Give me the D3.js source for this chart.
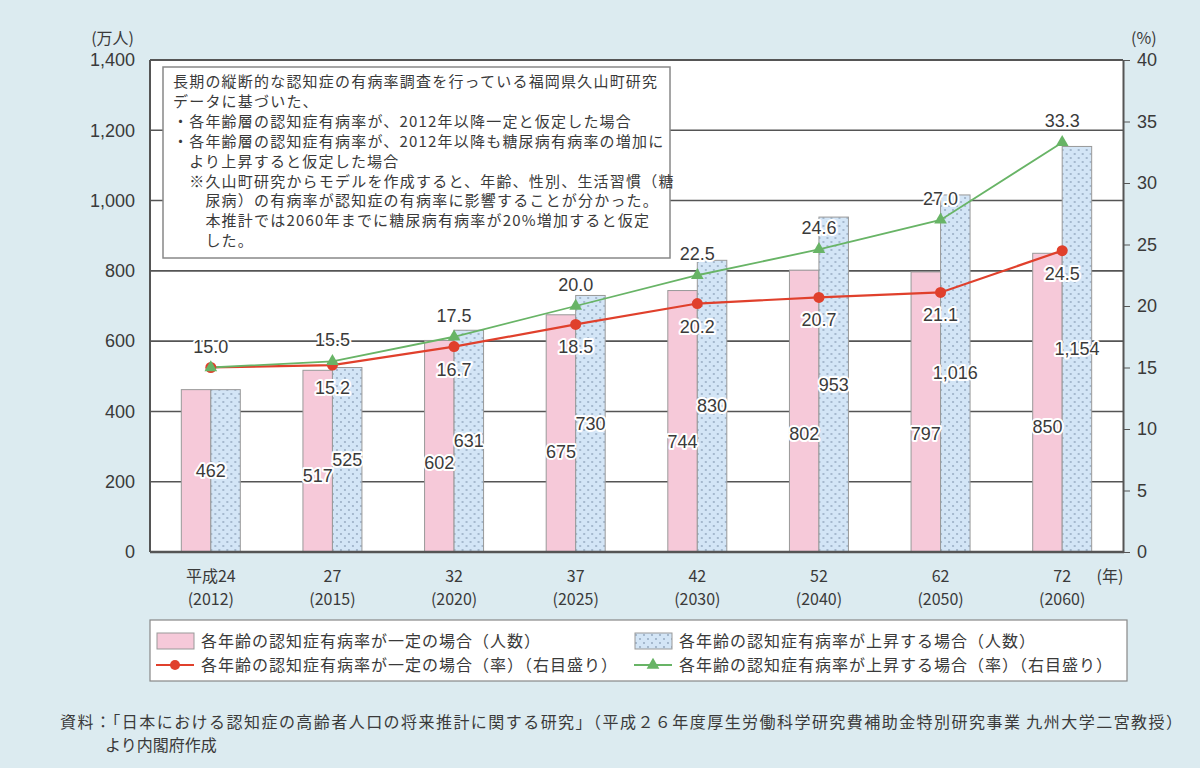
<!DOCTYPE html>
<html>
<head>
<meta charset="utf8">
<script src="https://d3js.org/d3.v7.min.js"></script>
<style>
  body { margin: 0; background: #dcebf0; }
  text { font-family: "Liberation Sans", Arial, sans-serif; fill: #3a3a3a; }
  .jp { font-family: "Noto Sans CJK JP", sans-serif; }
  .axis path, .axis line { stroke: #555; }
</style>
</head>
<body>
<svg id="chart" width="1200" height="768"></svg>
<script>
var eraYears = ['平成24', '27', '32', '37', '42', '52', '62', '72'];
var westernYears = ['(2012)', '(2015)', '(2020)', '(2025)', '(2030)', '(2040)', '(2050)', '(2060)'];
var peopleConst = [462, 517, 602, 675, 744, 802, 797, 850];
var peopleRise = [462, 525, 631, 730, 830, 953, 1016, 1154];
var rateConst = [15.0, 15.2, 16.7, 18.5, 20.2, 20.7, 21.1, 24.5];
var rateRise = [15.0, 15.5, 17.5, 20.0, 22.5, 24.6, 27.0, 33.3];
var leftTicks = [0, 200, 400, 600, 800, 1000, 1200, 1400];
var rightTicks = [0, 5, 10, 15, 20, 25, 30, 35, 40];
var seriesNames = [
  '各年齢の認知症有病率が一定の場合（人数）',
  '各年齢の認知症有病率が上昇する場合（人数）',
  '各年齢の認知症有病率が一定の場合（率）（右目盛り）',
  '各年齢の認知症有病率が上昇する場合（率）（右目盛り）'
];
var noteLines = [
  '長期の縦断的な認知症の有病率調査を行っている福岡県久山町研究',
  'データに基づいた、',
  '・各年齢層の認知症有病率が、2012年以降一定と仮定した場合',
  '・各年齢層の認知症有病率が、2012年以降も糖尿病有病率の増加に',
  '　より上昇すると仮定した場合',
  '　※久山町研究からモデルを作成すると、年齢、性別、生活習慣（糖',
  '　　尿病）の有病率が認知症の有病率に影響することが分かった。',
  '　　本推計では2060年までに糖尿病有病率が20%増加すると仮定',
  '　　した。'
];
var sourceLines = [
  '資料：「日本における認知症の高齢者人口の将来推計に関する研究」（平成２６年度厚生労働科学研究費補助金特別研究事業 九州大学二宮教授）',
  'より内閣府作成'
];

var svg = d3.select('#chart');
var plotL = 150, plotR = 1123, plotT = 60, plotB = 552;
var colors = { pink: '#f6c9d9', blue: '#d3e5f6', red: '#e0402c', green: '#68b466' };

var x0 = d3.scaleBand()
  .domain(d3.range(eraYears.length))
  .range([plotL, plotR])
  .paddingInner(0.515)
  .paddingOuter(0.2575);
var x1 = d3.scaleBand().domain(['c', 'r']).range([0, x0.bandwidth()]);
var yL = d3.scaleLinear().domain([0, 1400]).range([plotB, plotT]);
var yR = d3.scaleLinear().domain([0, 40]).range([plotB, plotT]);
var cx = function (i) { return x0(i) + x0.bandwidth() / 2; };

// dotted fill for the rising series
var pat = svg.append('defs').append('pattern')
  .attr('id', 'dots').attr('patternUnits', 'userSpaceOnUse')
  .attr('width', 8).attr('height', 8);
pat.append('rect').attr('width', 8).attr('height', 8).attr('fill', colors.blue);
pat.append('circle').attr('cx', 2).attr('cy', 2).attr('r', 0.9).attr('fill', '#8fa3bb');
pat.append('circle').attr('cx', 6).attr('cy', 6).attr('r', 0.9).attr('fill', '#8fa3bb');

// plot area
svg.append('rect').attr('x', plotL).attr('y', plotT)
  .attr('width', plotR - plotL).attr('height', plotB - plotT).attr('fill', '#fff');

svg.append('g').selectAll('line')
  .data(leftTicks.slice(1))
  .enter().append('line')
  .attr('x1', plotL).attr('x2', plotR)
  .attr('y1', (d) => yL(d)).attr('y2', (d) => yL(d))
  .attr('stroke', '#555').attr('stroke-width', 1.6);

// bars
var groups = svg.append('g').selectAll('g')
  .data(eraYears.map((d, i) => i))
  .enter().append('g')
  .attr('transform', (i) => 'translate(' + x0(i) + ',0)');
groups.append('rect')
  .attr('x', x1('c')).attr('width', x1.bandwidth())
  .attr('y', (i) => yL(peopleConst[i])).attr('height', (i) => plotB - yL(peopleConst[i]))
  .attr('fill', colors.pink).attr('stroke', '#999').attr('stroke-width', 1);
groups.append('rect')
  .attr('x', x1('r')).attr('width', x1.bandwidth())
  .attr('y', (i) => yL(peopleRise[i])).attr('height', (i) => plotB - yL(peopleRise[i]))
  .attr('fill', 'url(#dots)').attr('stroke', '#999').attr('stroke-width', 1);

// axes
svg.append('line').attr('x1', plotL).attr('x2', plotR).attr('y1', plotT).attr('y2', plotT)
  .attr('stroke', '#555').attr('stroke-width', 2);
svg.append('line').attr('x1', plotL).attr('x2', plotL).attr('y1', plotT).attr('y2', plotB)
  .attr('stroke', '#555').attr('stroke-width', 2);

svg.append('g').attr('class', 'axis')
  .attr('transform', 'translate(' + plotL + ',0)')
  .call(d3.axisLeft(yL).tickValues(leftTicks).tickSize(0).tickPadding(15).tickFormat(d3.format(',')))
  .call((g) => g.select('.domain').remove())
  .selectAll('text').attr('font-size', 18).attr('font-family', null).style('fill', '#3a3a3a');

svg.append('g').attr('class', 'axis')
  .attr('transform', 'translate(' + plotR + ',0)')
  .call(d3.axisRight(yR).tickValues(rightTicks).tickSize(7).tickPadding(7).tickSizeOuter(0))
  .call((g) => g.select('.domain').attr('stroke-width', 2))
  .selectAll('text').attr('font-size', 18).attr('font-family', null).style('fill', '#3a3a3a');

svg.append('line').attr('x1', plotL).attr('x2', plotR + 1).attr('y1', plotB).attr('y2', plotB)
  .attr('stroke', '#555').attr('stroke-width', 2.5);

svg.append('text').attr('class', 'jp').attr('x', 134).attr('y', 44)
  .attr('text-anchor', 'end').attr('font-size', 16).text('(万人)');
svg.append('text').attr('class', 'jp').attr('x', 1131).attr('y', 44)
  .attr('font-size', 16).text('(%)');

var xl = svg.append('g').selectAll('g')
  .data(eraYears.map((d, i) => i))
  .enter().append('g');
xl.append('text').attr('class', 'jp').attr('x', cx).attr('y', 582)
  .attr('text-anchor', 'middle').attr('font-size', 16).text((i) => eraYears[i]);
xl.append('text').attr('class', 'jp').attr('x', cx).attr('y', 605)
  .attr('text-anchor', 'middle').attr('font-size', 16).text((i) => westernYears[i]);
svg.append('text').attr('class', 'jp').attr('x', 1110).attr('y', 582)
  .attr('text-anchor', 'middle').attr('font-size', 16).text('(年)');

// note box
svg.append('rect').attr('x', 163).attr('y', 67).attr('width', 507).attr('height', 191)
  .attr('fill', '#fff').attr('stroke', '#888').attr('stroke-width', 1.5);
svg.append('g').selectAll('text')
  .data(noteLines)
  .enter().append('text')
  .attr('class', 'jp')
  .attr('x', 173).attr('y', (d, i) => 87 + i * 19.9)
  .attr('font-size', 15).style('letter-spacing', '1.2px').style('white-space', 'pre')
  .text((d) => d);

// bar value labels
var halo = function (sel) {
  sel.attr('font-size', 18).attr('text-anchor', 'middle')
    .attr('stroke', '#fff').attr('stroke-width', 4).attr('stroke-linejoin', 'round')
    .attr('paint-order', 'stroke');
};
var fmt = d3.format(',');
groups.append('text').call(halo)
  .attr('x', (i) => peopleConst[i] === peopleRise[i] ? x0.bandwidth() / 2 : x1('c') + x1.bandwidth() / 2)
  .attr('y', (i) => yL(peopleConst[i] * (peopleConst[i] === peopleRise[i] ? 0.5 : 0.42)) + 6)
  .text((i) => fmt(peopleConst[i]));
groups.filter((i) => peopleConst[i] !== peopleRise[i])
  .append('text').call(halo)
  .attr('x', x1('r') + x1.bandwidth() / 2)
  .attr('y', (i) => yL(peopleRise[i] * 0.5) + 6)
  .text((i) => fmt(peopleRise[i]));

// rate lines
var line = function (vals) {
  return d3.line().x((d, i) => cx(i)).y((d) => yR(d))(vals);
};
svg.append('path').attr('d', line(rateConst)).attr('fill', 'none')
  .attr('stroke', colors.red).attr('stroke-width', 2.2);
svg.append('path').attr('d', line(rateRise)).attr('fill', 'none')
  .attr('stroke', colors.green).attr('stroke-width', 1.8);

svg.append('g').selectAll('circle')
  .data(rateConst).enter().append('circle')
  .attr('cx', (d, i) => cx(i)).attr('cy', (d) => yR(d)).attr('r', 5.5)
  .attr('fill', colors.red);
var tri = d3.symbol().type(d3.symbolTriangle).size(70);
svg.append('g').selectAll('path')
  .data(rateRise).enter().append('path')
  .attr('d', tri)
  .attr('transform', (d, i) => 'translate(' + cx(i) + ',' + yR(d) + ')')
  .attr('fill', colors.green);

svg.append('g').selectAll('text')
  .data(rateRise).enter().append('text').call(halo)
  .attr('x', (d, i) => cx(i)).attr('y', (d) => yR(d) - 15)
  .text((d) => d.toFixed(1));
svg.append('g').selectAll('text')
  .data(rateConst.map((d, i) => ({ v: d, i: i })).filter((d) => d.v !== rateRise[d.i]))
  .enter().append('text').call(halo)
  .attr('x', (d) => cx(d.i)).attr('y', (d) => yR(d.v) + 29)
  .text((d) => d.v.toFixed(1));

// legend
svg.append('rect').attr('x', 150).attr('y', 620).attr('width', 977).attr('height', 61)
  .attr('fill', '#fff').attr('stroke', '#888').attr('stroke-width', 1.2);
var lg = svg.append('g').selectAll('g')
  .data(seriesNames)
  .enter().append('g')
  .attr('transform', (d, i) => 'translate(' + (i % 2 ? 634 : 156) + ',' + (i < 2 ? 641 : 665) + ')');
lg.filter((d, i) => i < 2).append('rect')
  .attr('x', 1).attr('y', -8).attr('width', 37).attr('height', 16)
  .attr('fill', (d, i) => i ? 'url(#dots)' : colors.pink).attr('stroke', '#999');
lg.filter((d, i) => i >= 2).append('line')
  .attr('x1', 0).attr('x2', 38).attr('y1', 0).attr('y2', 0)
  .attr('stroke', (d, i) => i ? colors.green : colors.red).attr('stroke-width', 2);
lg.filter((d, i) => i === 2).append('circle').attr('cx', 19).attr('r', 5).attr('fill', colors.red);
lg.filter((d, i) => i === 3).append('path').attr('d', tri)
  .attr('transform', 'translate(19,0)').attr('fill', colors.green);
lg.append('text').attr('class', 'jp')
  .attr('x', 45).attr('y', 6).attr('font-size', 16).style('letter-spacing', '1px')
  .text((d) => d);

// source
svg.append('g').selectAll('text')
  .data(sourceLines)
  .enter().append('text')
  .attr('class', 'jp')
  .attr('x', (d, i) => i ? 105 : 60)
  .attr('y', (d, i) => 728 + i * 23)
  .attr('font-size', 16)
  .attr('textLength', (d, i) => i ? null : 1122)
  .text((d) => d);
</script>
</body>
</html>
